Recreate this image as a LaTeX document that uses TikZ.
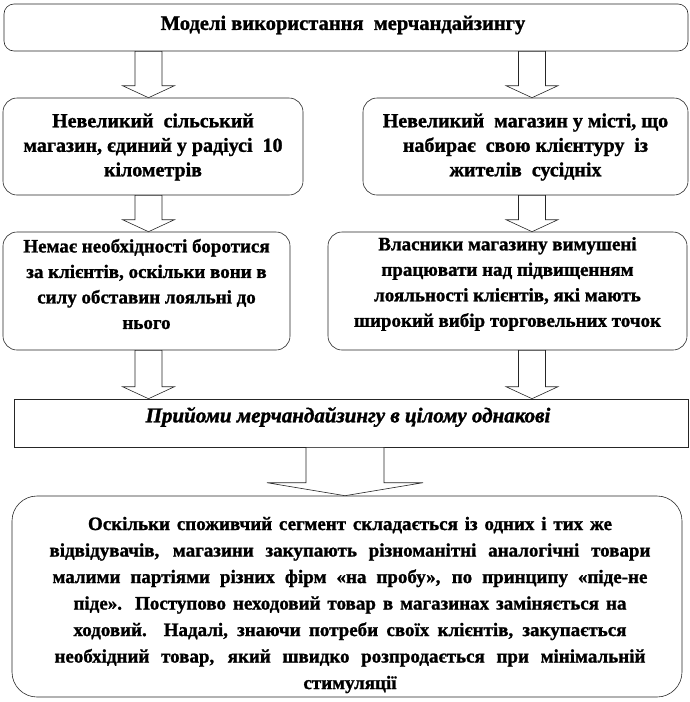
\documentclass[tikz,border=0pt]{standalone}
\usepackage{fontspec}
\setmainfont{Liberation Serif}[BoldFeatures={FakeBold=1.2},BoldItalicFeatures={FakeBold=1.5}]
\usetikzlibrary{calc}
\newcommand\bxfont{\fontsize{19}{25.5}\selectfont\bfseries}
\newcommand\sline[2]{\makebox[#1pt][s]{#2}}
\tikzset{
  x=1pt, y=-1pt,
  box/.style={draw=black!85, line width=0.6pt, rounded corners=14pt, inner sep=0pt,
    align=center, fill=white},
  txt/.style={align=center, inner sep=0pt, font=\bxfont},
  barrow/.style={draw=black!85, line width=0.6pt, fill=white},
}
\newcommand\blockarr[6]{%
  \draw[barrow] let \p1=(#1.south), \p2=(#2.north) in
    (#3pt-#4pt,\y1) -- (#3pt+#4pt,\y1) -- (#3pt+#4pt,\y2+#6pt) -- (#3pt+#5pt,\y2+#6pt)
    -- (#3pt,\y2) -- (#3pt-#5pt,\y2+#6pt) -- (#3pt-#4pt,\y2+#6pt) -- cycle;}
\begin{document}
\begin{tikzpicture}
\useasboundingbox (0,0) rectangle (690,702);
% boxes
\node[box, rounded corners=10pt, minimum width=684pt, minimum height=47pt] (top) at (346,27.5) {};
\node[box, minimum width=300pt, minimum height=97pt] (l2) at (153,146.5) {};
\node[box, minimum width=325pt, minimum height=97pt] (r2) at (525.5,146.5) {};
\node[box, minimum width=287pt, minimum height=118pt] (l3) at (146.5,291) {};
\node[box, minimum width=359pt, minimum height=118pt] (r3) at (507.5,291) {};
\node[box, rounded corners=0pt, minimum width=674pt, minimum height=48pt] (m4) at (351,423) {};
\node[box, rounded corners=25pt, minimum width=670pt, minimum height=201pt] (b5) at (347,596.5) {};
% texts
\node[txt, font=\fontsize{20.5}{25}\selectfont\bfseries] (ttop) at (343,25)
  {Моделі використання\ \ мерчандайзингу};
\node[txt, font=\fontsize{20}{24.5}\selectfont\bfseries] (tl2) at ([yshift=-0.5pt]l2.center)
  {Невеликий\ \ сільський\\магазин, єдиний у радіусі\ \ 10\\кілометрів};
\node[txt, font=\fontsize{20}{24.5}\selectfont\bfseries] (tr2) at ([yshift=-0.5pt]r2.center)
  {Невеликий\ \ магазин у місті, що\\набирає\ \ свою клієнтуру\ \ із\\жителів\ \ сусідніх};
\node[txt] (tl3) at ([yshift=7pt]l3.center)
  {Немає необхідності боротися\\за клієнтів, оскільки вони в\\силу обставин лояльні до\\нього};
\node[txt] (tr3) at ([yshift=7pt]r3.center)
  {Власники магазину вимушені\\працювати над підвищенням\\лояльності клієнтів, які мають\\широкий вибір торговельних точок};
\node[txt, font=\fontsize{21}{25}\selectfont\bfseries\itshape] (tm4) at (348,417)
  {Прийоми мерчандайзингу в цілому однакові};
\node[txt, font=\fontsize{19}{26.5}\selectfont\bfseries] (tb5) at (350,605)
  {\sline{524}{Оскільки споживчий сегмент складається із одних і тих же}\\
   \sline{601}{відвідувачів, магазини закупають різноманітні аналогічні товари}\\
   \sline{595}{малими партіями різних фірм «на пробу», по принципу «піде-не}\\
   \sline{553}{піде». Поступово неходовий товар в магазинах заміняється на}\\
   \sline{553}{ходовий. Надалі, знаючи потреби своїх клієнтів, закупається}\\
   \sline{591}{необхідний товар, який швидко розпродається при мінімальній}\\
   стимуляції};
% arrows
\blockarr{top}{l2}{148.5}{13.5}{26}{12}
\blockarr{top}{r2}{532}{13.5}{26}{12}
\blockarr{l2}{l3}{148.5}{13.5}{26}{12}
\blockarr{r2}{r3}{532}{13.5}{26}{12}
\blockarr{l3}{m4}{148.5}{13.5}{26}{12}
\blockarr{r3}{m4}{532}{13.5}{26}{12}
\blockarr{m4}{b5}{345}{39}{78}{13}
\end{tikzpicture}
\end{document}
